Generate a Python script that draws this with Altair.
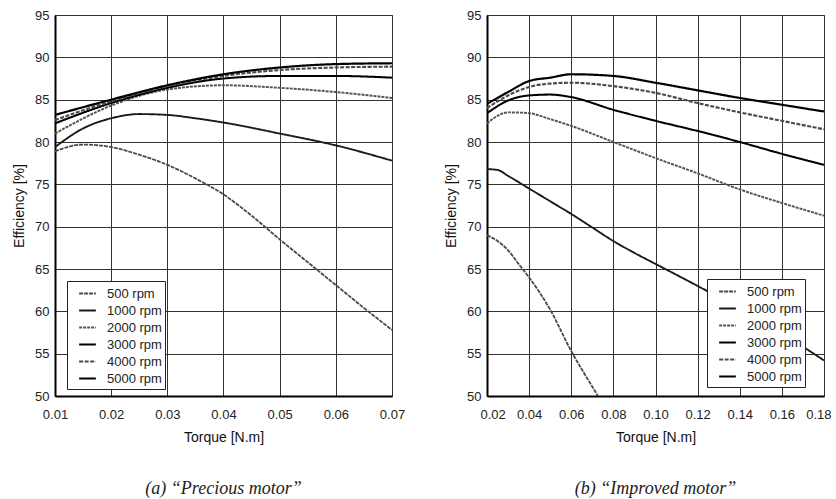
import altair as alt
import pandas as pd

series = ["500 rpm", "1000 rpm", "2000 rpm", "3000 rpm", "4000 rpm", "5000 rpm"]

# (a) Precious motor
a_x_500 = [0.01, 0.015, 0.02, 0.025, 0.03, 0.035, 0.04, 0.045, 0.05, 0.055, 0.06, 0.065, 0.07]
a_y_500 = [78.9, 79.7, 79.4, 78.5, 77.3, 75.7, 73.8, 71.3, 68.5, 65.8, 63.1, 60.4, 57.8]
a_x_1000 = [0.01, 0.015, 0.02, 0.025, 0.03, 0.035, 0.04, 0.05, 0.06, 0.07]
a_y_1000 = [79.4, 81.6, 82.8, 83.3, 83.2, 82.8, 82.3, 81.0, 79.6, 77.8]
a_x_std = [0.01, 0.02, 0.03, 0.04, 0.05, 0.06, 0.07]
a_y_2000 = [81.0, 84.3, 86.2, 86.7, 86.4, 85.9, 85.2]
a_y_3000 = [82.2, 84.6, 86.4, 87.5, 87.8, 87.8, 87.6]
a_y_4000 = [82.6, 84.8, 86.6, 87.8, 88.5, 88.8, 88.9]
a_y_5000 = [83.2, 85.0, 86.7, 88.0, 88.8, 89.2, 89.3]

# (b) Improved motor
b_x_500 = [0.02, 0.025, 0.03, 0.035, 0.04, 0.05, 0.06, 0.07, 0.0727]
b_y_500 = [69.0, 68.3, 67.2, 65.6, 64.0, 60.2, 55.3, 51.1, 50.0]
b_x_1000 = [0.02, 0.025, 0.03, 0.04, 0.05, 0.06, 0.07, 0.08, 0.09, 0.10, 0.12, 0.14, 0.16, 0.18]
b_y_1000 = [76.8, 76.7, 76.0, 74.5, 73.0, 71.5, 69.9, 68.3, 66.9, 65.6, 63.0, 60.3, 57.4, 54.2]
b_x_std = [0.02, 0.03, 0.04, 0.05, 0.06, 0.08, 0.10, 0.12, 0.14, 0.16, 0.18]
b_y_2000 = [82.2, 83.5, 83.4, 82.7, 81.9, 80.0, 78.1, 76.3, 74.4, 72.8, 71.3]
b_y_3000 = [83.4, 84.9, 85.5, 85.6, 85.3, 83.8, 82.5, 81.3, 80.0, 78.6, 77.3]
b_y_4000 = [84.0, 85.5, 86.5, 86.9, 87.0, 86.6, 85.8, 84.6, 83.5, 82.5, 81.5]
b_y_5000 = [84.5, 85.9, 87.2, 87.6, 88.0, 87.8, 87.0, 86.1, 85.2, 84.4, 83.6]

a_ticks = [0.01, 0.02, 0.03, 0.04, 0.05, 0.06, 0.07]
b_ticks = [0.02, 0.04, 0.06, 0.08, 0.10, 0.12, 0.14, 0.16, 0.18]
y_ticks = [50, 55, 60, 65, 70, 75, 80, 85, 90, 95]


def frame(pairs):
    rows = []
    for name, xs, ys in pairs:
        for i, (x, y) in enumerate(zip(xs, ys)):
            rows.append({"rpm": name, "torque": x, "eff": y, "order": i})
    return pd.DataFrame(rows)


df_a = frame([
    ("500 rpm", a_x_500, a_y_500), ("1000 rpm", a_x_1000, a_y_1000),
    ("2000 rpm", a_x_std, a_y_2000), ("3000 rpm", a_x_std, a_y_3000),
    ("4000 rpm", a_x_std, a_y_4000), ("5000 rpm", a_x_std, a_y_5000),
])
df_b = frame([
    ("500 rpm", b_x_500, b_y_500), ("1000 rpm", b_x_1000, b_y_1000),
    ("2000 rpm", b_x_std, b_y_2000), ("3000 rpm", b_x_std, b_y_3000),
    ("4000 rpm", b_x_std, b_y_4000), ("5000 rpm", b_x_std, b_y_5000),
])

colors = ["#4a4a4a", "#1a1a1a", "#555555", "#000000", "#4a4a4a", "#000000"]
dashes = [[4, 1], [1, 0], [3, 1], [1, 0], [4, 1.5], [1, 0]]
widths = [1.8, 2.2, 1.8, 1.4, 1.8, 2.7]


def panel(df, xdom, xticks, caption, lx, ly, flush):
    legend = alt.Legend(
        title=None, orient="none", legendX=lx, legendY=ly,
        fillColor="white", strokeColor="#222", padding=3,
        labelFont="Liberation Sans", labelFontSize=13, labelColor="#222",
        symbolType="stroke", symbolSize=280, symbolStrokeWidth=2,
        symbolOffset=8, rowPadding=-0.5, labelOffset=10,
    )
    axis_kw = {"labelFlush": True, "labelFlushOffset": 7} if flush else {"labelFlush": False}
    return alt.Chart(df).mark_line(interpolate="monotone", clip=True).encode(
        x=alt.X("torque:Q", scale=alt.Scale(domain=xdom, nice=False, zero=False),
                axis=alt.Axis(values=xticks, format=".2f", title="Torque [N.m]", **axis_kw)),
        y=alt.Y("eff:Q", scale=alt.Scale(domain=[50, 95], nice=False, zero=False),
                axis=alt.Axis(values=y_ticks, title="Efficiency [%]")),
        color=alt.Color("rpm:N", scale=alt.Scale(domain=series, range=colors), legend=legend),
        strokeDash=alt.StrokeDash("rpm:N", scale=alt.Scale(domain=series, range=dashes), legend=legend),
        strokeWidth=alt.StrokeWidth("rpm:N", scale=alt.Scale(domain=series, range=widths), legend=legend),
        order="order:Q",
        detail="rpm:N",
    ).properties(
        width=337, height=381,
        title=alt.TitleParams(caption, orient="bottom", font="Liberation Serif",
                              fontStyle="italic", fontSize=18, fontWeight="normal",
                              color="#222", offset=36),
    )


left = panel(df_a, [0.01, 0.07], a_ticks, "(a) “Precious motor”", 12, 266, False)
right = panel(df_b, [0.02, 0.18], b_ticks, "(b) “Improved motor”", 220, 264, True)

chart = alt.hconcat(left, right, spacing=95, bounds="flush").resolve_scale(
    color="independent", strokeDash="independent", strokeWidth="independent", x="independent"
).resolve_legend(color="independent", strokeDash="independent", strokeWidth="independent").properties(
    padding={"left": 12, "top": 8, "right": 0, "bottom": 0}
).configure_view(stroke="#666", strokeWidth=1).configure_axis(
    labelFont="Liberation Sans", labelFontSize=13, labelColor="#222",
    titleFont="Liberation Sans", titleFontSize=14, titleFontWeight="normal", titleColor="#111",
    gridColor="#333", gridWidth=1, gridOpacity=1, tickSize=0, labelPadding=6,
    domainColor="#000", domainWidth=2,
).configure_axisY(titlePadding=8).configure_axisX(titlePadding=9, labelPadding=12)

chart.save("out.html", embed_options={"renderer": "svg", "actions": False})
